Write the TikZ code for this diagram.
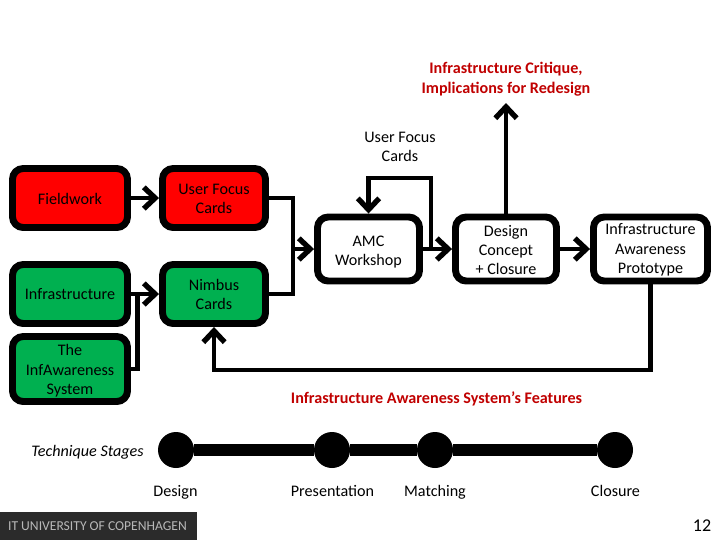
\documentclass[tikz,border=0pt]{standalone}
\usepackage{fontspec}
\setmainfont{Carlito}
\usetikzlibrary{arrows.meta}
\definecolor{boxred}{HTML}{FF0000}
\definecolor{boxgreen}{HTML}{00B050}
\definecolor{labelred}{HTML}{C00000}
\definecolor{logogrey}{HTML}{2B2B2B}
\newcommand{\txt}{\fontsize{12.1}{14.6}\selectfont}
\tikzset{
  box/.style n args={2}{draw=black,line width=5.2pt,rounded corners=8pt,inner sep=0pt,align=center,
    minimum width=#1*0.75pt,minimum height=#2*0.75pt},
  lab/.style={inner sep=0pt,align=center,font=\txt,text=black,draw=none,fill=none,rounded corners=0pt,line width=0.4pt},
  blab/.style={lab,anchor=base},
  redlab/.style={lab,text=labelred,font=\txt\bfseries},
  conn/.style={draw=black,line width=3.6pt,line cap=butt,line join=miter},
  arrow/.style={conn,-{Straight Barb[length=8.5pt,width=16pt,line width=4pt]}},
  dot/.style={circle,fill=black,inner sep=0pt,minimum size=27pt}
}
\begin{document}
\begin{tikzpicture}[x=0.75pt,y=-0.75pt]
\useasboundingbox (0,0) rectangle (720,540);
% logo strip
\fill[logogrey] (0,512) rectangle (197,540);
\node[lab,text=white!72!black,font=\fontsize{10.2}{12}\selectfont] (logo) at (97.5,526) {IT UNIVERSITY OF COPENHAGEN};
\node[lab,font=\fontsize{13.5}{16}\selectfont] (page) at (702,526) {12};
% boxes
\node[box={115}{59},fill=boxred,label={[lab,yshift=-0.4pt]center:Fieldwork}] (field) at (70,198) {};
\node[box={103}{59},fill=boxred,label={[lab,yshift=-0.75pt]center:{User Focus\\Cards}}] (ufc) at (214,198) {};
\node[box={115}{59},fill=boxgreen,label={[lab]center:Infrastructure}] (infra) at (70,294) {};
\node[box={103}{59},fill=boxgreen,label={[lab,yshift=-0.2pt]center:{Nimbus\\Cards}}] (nimbus) at (214,294) {};
\node[box={115}{65},fill=boxgreen,label={[lab,yshift=-1.5pt]center:{The\\InfAwareness\\System}}] (sys) at (70,369) {};
\node[box={102}{64},fill=white,label={[lab,yshift=-2.25pt]center:{AMC\\Workshop}}] (amc) at (368.5,249) {};
\node[box={101}{64},fill=white,label={[lab,yshift=-0.75pt]center:{Design\\Concept\\+ Closure}}] (concept) at (506,249) {};
\node[box={114}{64},fill=white,label={[lab,yshift=-0.75pt]center:{Infrastructure\\Awareness\\Prototype}}] (proto) at (650.5,249) {};
% labels
\node[redlab] (critique) at (506,79) {Infrastructure Critique,\\Implications for Redesign};
\node[lab] (ufclab) at (400,147) {User Focus\\Cards};
\node[redlab] (features) at (436.5,398.5) {Infrastructure Awareness System’s Features};
\node[blab,font=\txt\itshape] (stages) at (87.5,456.5) {Technique Stages};
% connector points
\coordinate (merge) at (293,249);
\coordinate (join) at (137.5,294);
\coordinate (loopstart) at (431,249);
\coordinate (loopcorner) at (431,178);
\coordinate (fbcorner) at (214,370);
\coordinate (top) at (506,103);
% connectors
\draw[arrow] (field.east) -- (ufc.west);
\draw[arrow] (infra.east) -- (nimbus.west);
\draw[conn] (sys.east) -| (join);
\draw[conn] (ufc.east) -| (merge);
\draw[conn] (nimbus.east) -| (merge);
\draw[arrow] (merge) -- (amc.west);
\draw[arrow] (amc.east) -- (concept.west);
\draw[arrow] (concept.east) -- (proto.west);
\draw[arrow] (concept.north) -- (top);
\draw[arrow] (loopstart) -- (loopcorner) -| (amc.north);
\draw[arrow] (proto.south) |- (fbcorner) -- (nimbus.south);
% timeline
\node[dot] (s1) at (176,450) {};
\node[dot] (s2) at (332,450) {};
\node[dot] (s3) at (435,450) {};
\node[dot] (s4) at (615,450) {};
\draw[line width=9pt] (s1) -- (s2) -- (s3) -- (s4);
\node[blab] (l1) at (175.5,496) {Design};
\node[blab] (l2) at (332.5,496) {Presentation};
\node[blab] (l3) at (435,496) {Matching};
\node[blab] (l4) at (615.5,496) {Closure};
\end{tikzpicture}
\end{document}
